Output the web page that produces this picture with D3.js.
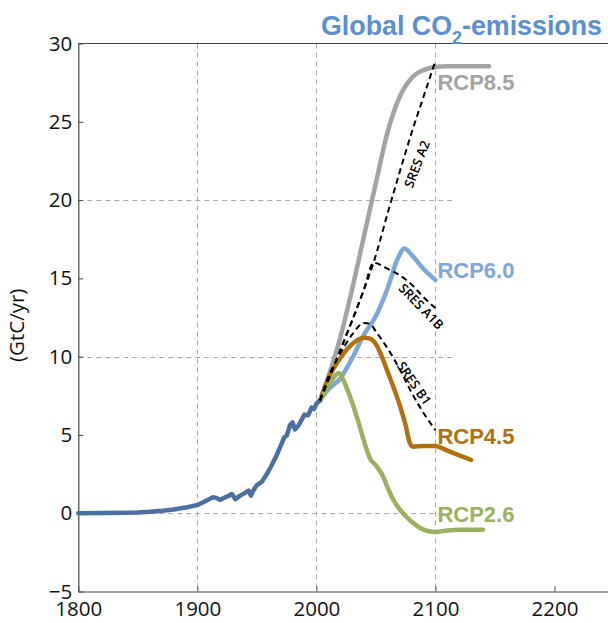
<!DOCTYPE html>
<html>
<head>
<meta charset="utf-8">
<script src="https://cdn.jsdelivr.net/npm/d3@7/dist/d3.min.js"></script>
<style>
  html, body { margin: 0; padding: 0; background: #fff; }
  svg { display: block; }
</style>
</head>
<body>
<svg id="chart" width="608" height="623"></svg>
<script>
// Historical fossil CO2 emissions (GtC/yr)
const histYears = [1800,1820,1840,1850,1860,1870,1880,1890,1900,1905,1910,1913,1916,1919,1923,1926,1929,1932,1936,1940,1943,1945,1947,1950,1954,1958,1962,1966,1970,1973,1975,1978,1980,1982,1985,1990,1993,1996,1998,2000,2003];
const histValues = [0,0.01,0.03,0.05,0.09,0.15,0.24,0.36,0.52,0.7,0.9,1.02,0.98,0.85,1.0,1.1,1.22,0.9,1.12,1.3,1.45,1.12,1.45,1.8,2.0,2.45,3.0,3.6,4.3,4.85,4.95,5.65,5.8,5.35,5.6,6.3,6.25,6.75,6.65,7.0,7.2];

// RCP pathways
const rcp85Years = [2003,2010,2020,2030,2040,2050,2060,2070,2080,2090,2100,2110,2125,2145];
const rcp85Values = [7.2,8.7,11.2,14.3,17.7,21.1,24.4,26.6,27.8,28.3,28.5,28.55,28.55,28.55];

const rcp60Years = [2003,2010,2020,2030,2040,2050,2060,2068,2074,2080,2090,2100];
const rcp60Values = [7.2,7.9,8.6,9.9,11.4,12.6,14.4,16.2,16.9,16.5,15.6,14.9];

const rcp45Years = [2003,2010,2020,2030,2040,2045,2050,2055,2060,2065,2070,2075,2078,2081,2090,2100,2110,2120,2130];
const rcp45Values = [7.2,8.6,9.9,10.8,11.2,11.15,10.8,10.0,9.0,8.0,6.9,5.6,4.6,4.25,4.3,4.3,4.0,3.7,3.4];

const rcp26Years = [2003,2010,2019,2022,2028,2035,2040,2045,2050,2055,2060,2065,2070,2080,2090,2100,2110,2120,2140];
const rcp26Values = [7.2,8.1,8.95,8.6,7.5,5.9,4.6,3.5,3.05,2.5,1.6,0.8,0.25,-0.55,-1.05,-1.2,-1.1,-1.05,-1.05];

// SRES marker scenarios
const sresA2Years = [2003,2010,2020,2030,2040,2048,2060,2070,2080,2090,2100];
const sresA2Values = [7.2,8.5,10.4,12.3,14.3,16.0,19.2,21.8,24.3,26.6,28.9];

const sresA1BYears = [2003,2010,2020,2030,2040,2048,2060,2070,2080,2090,2100];
const sresA1BValues = [7.2,8.5,10.4,12.3,14.3,16.0,15.6,15.2,14.6,13.8,13.1];

const sresB1Years = [2003,2010,2020,2030,2040,2045,2050,2060,2070,2080,2090,2100];
const sresB1Values = [7.2,8.7,10.2,11.4,12.15,12.1,11.6,10.5,9.2,7.7,6.4,5.3];

const rcpNames = ["RCP8.5","RCP6.0","RCP4.5","RCP2.6"];
const rcpColors = ["#a3a3a3","#7fa6d8","#b2700f","#9bb061"];
const rcpLabelValues = [27.0, 15.0, 4.4, -0.55];

const sresNames = ["SRES A2","SRES A1B","SRES B1"];
const sresLabelYears = [2084.5, 2088, 2082];
const sresLabelValues = [22.3, 13.2, 8.3];
const sresLabelAngles = [-69, 46, 55];

const xTicks = [1800,1900,2000,2100,2200];
const yTicks = [-5,0,5,10,15,20,25,30];
const xGrid = [1900,2000,2100];
const yGrid = [0,10,20];

const svg = d3.select("#chart");
const x = d3.scaleLinear().domain([1800, 2250]).range([78.3, 614]);
const y = d3.scaleLinear().domain([-5, 30]).range([591.5, 43.5]);
const plotLeft = x(1800), plotTop = y(30), plotBottom = y(-5);

// grid
const grid = svg.append("g").attr("stroke", "#a8a8a8").attr("stroke-width", 1)
  .attr("stroke-dasharray", "5,4").attr("fill", "none");
grid.selectAll("line.v").data(xGrid).join("line").attr("class", "v")
  .attr("x1", d => Math.round(x(d)) + 0.5).attr("x2", d => Math.round(x(d)) + 0.5)
  .attr("y1", plotTop).attr("y2", plotBottom);
grid.selectAll("line.h").data(yGrid).join("line").attr("class", "h")
  .attr("x1", plotLeft).attr("x2", x(2114))
  .attr("y1", d => Math.round(y(d)) + 0.5).attr("y2", d => Math.round(y(d)) + 0.5);

// axes (ticks point inward)
const axisFont = "'Open Sans', sans-serif";
const yAxis = svg.append("g").attr("transform", `translate(${plotLeft},0)`)
  .call(d3.axisLeft(y).tickValues(yTicks).tickSizeInner(-5).tickSizeOuter(0).tickPadding(6));
const xAxis = svg.append("g").attr("transform", `translate(0,${plotBottom})`)
  .call(d3.axisBottom(x).tickValues(xTicks).tickFormat(d3.format("d")).tickSizeInner(-5).tickSizeOuter(0).tickPadding(10));
[yAxis, xAxis].forEach(a => {
  a.select(".domain").attr("stroke", "#444").attr("stroke-width", 1.2);
  a.selectAll(".tick line").attr("stroke", "#444");
  a.selectAll(".tick text").attr("fill", "#111").style("font-family", axisFont).style("font-size", "20.5px");
});
// top box line
svg.append("line").attr("x1", plotLeft).attr("x2", 608).attr("y1", plotTop).attr("y2", plotTop)
  .attr("stroke", "#444").attr("stroke-width", 1.2);

svg.append("text")
  .attr("transform", `translate(24,${y(12.0)}) rotate(-90)`)
  .attr("text-anchor", "middle")
  .style("font-family", axisFont).style("font-size", "20.5px").attr("fill", "#111")
  .text("(GtC/yr)");

const line = d3.line().x(d => x(d[0])).y(d => y(d[1])).curve(d3.curveMonotoneX);
const zip = (a, b) => a.map((v, i) => [v, b[i]]);

const rcpSeries = [
  zip(rcp85Years, rcp85Values),
  zip(rcp60Years, rcp60Values),
  zip(rcp45Years, rcp45Values),
  zip(rcp26Years, rcp26Values)
];
svg.append("g").selectAll("path").data(rcpSeries).join("path")
  .attr("d", line).attr("fill", "none")
  .attr("stroke", (d, i) => rcpColors[i]).attr("stroke-width", 4.5)
  .attr("stroke-linejoin", "round").attr("stroke-linecap", "round");

svg.append("path").datum(zip(histYears, histValues))
  .attr("d", d3.line().x(d => x(d[0])).y(d => y(d[1])))
  .attr("fill", "none").attr("stroke", "#4b6fa3").attr("stroke-width", 4.5)
  .attr("stroke-linejoin", "round").attr("stroke-linecap", "round");

const sresSeries = [
  zip(sresA2Years, sresA2Values),
  zip(sresA1BYears, sresA1BValues),
  zip(sresB1Years, sresB1Values)
];
svg.append("g").selectAll("path").data(sresSeries).join("path")
  .attr("d", line).attr("fill", "none")
  .attr("stroke", "#000").attr("stroke-width", 2).attr("stroke-dasharray", "6,4");

svg.append("g").selectAll("text").data(sresNames).join("text")
  .attr("transform", (d, i) => `translate(${x(sresLabelYears[i])},${y(sresLabelValues[i])}) rotate(${sresLabelAngles[i]})`)
  .attr("text-anchor", "middle").attr("dy", "0.35em")
  .style("font-family", "'Open Sans', sans-serif").style("font-size", "13px")
  .style("font-weight", "600").attr("fill", "#000").text(d => d);

svg.append("g").selectAll("text").data(rcpNames).join("text")
  .attr("x", x(2100) + 2).attr("y", (d, i) => y(rcpLabelValues[i]))
  .style("font-family", "'Liberation Sans', Arial, sans-serif").style("font-size", "22px")
  .style("font-weight", "bold").attr("fill", (d, i) => rcpColors[i]).text(d => d);

// title
const title = svg.append("text").attr("x", 602).attr("y", 35).attr("text-anchor", "end")
  .style("font-family", "'Liberation Sans', Arial, sans-serif").style("font-size", "26.8px")
  .style("font-weight", "bold").attr("fill", "#5a8fd0");
title.append("tspan").text("Global CO");
title.append("tspan").attr("dy", 9).style("font-size", "18px").text("2");
title.append("tspan").attr("dy", -9).text("-emissions");
</script>
</body>
</html>
